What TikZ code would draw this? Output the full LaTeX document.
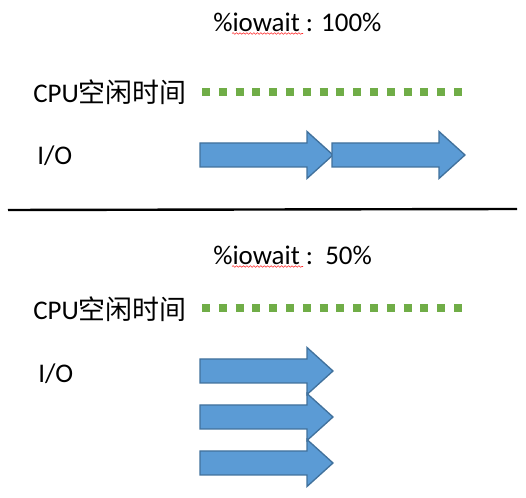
\documentclass[tikz,border=0pt]{standalone}
\usepackage{fontspec}
\setmainfont{Carlito}
\newfontfamily\cjk{Noto Sans CJK SC}
\usepackage{xcolor}
\usetikzlibrary{positioning,calc,decorations.pathmorphing}

\definecolor{ioblue}{HTML}{5B9BD5}
\definecolor{ioedge}{HTML}{41719C}
\definecolor{idlegreen}{HTML}{70AD47}

\tikzset{
  label/.style={inner sep=0pt, anchor=west, font=\fontsize{20.2}{24}\selectfont},
  ioblock/.style={draw=ioedge, line width=1pt, fill=ioblue, line join=miter},
  idle/.style={draw=idlegreen, line width=6pt, dash pattern=on 6pt off 6.6pt},
  spell/.style={draw=red!85, line width=0.4pt, decorate,
    decoration={snake, amplitude=0.6pt, segment length=2.6pt}}
}

% #1 is x of tail
% #2 is y of centre
\newcommand{\ioarrow}[2]{
  \path[ioblock] (#1,#2-12) -- (#1+107,#2-12) -- (#1+107,#2-23.5) -- (#1+133,#2)
    -- (#1+107,#2+23.5) -- (#1+107,#2+12) -- (#1,#2+12) -- cycle;
}

\begin{document}
\begin{tikzpicture}[x=0.75pt, y=-0.75pt]
  \useasboundingbox (0,0) rectangle (526,498);

  % upper case: 100%
  \node[label] (title_full) at (213,22) {\%iowait : 100\%};
  \draw[spell] (232,33.5) -- (303,33.5);
  \node[label] (cpu_full) at (33,92) {CPU{\cjk 空闲时间}};
  \node[label] (io_full) at (37,156) {I/O};

  \draw[idle] (202,92) -- (462,92);

  \ioarrow{200}{155}
  \ioarrow{332}{155}

  % separator
  \coordinate (sep_left) at (8,210);
  \coordinate (sep_right) at (517,209);
  \draw[line width=1.8pt] (sep_left) -- (sep_right);

  % lower case: 50%
  \node[label] (title_half) at (213,255) {\%iowait :\ \ 50\%};
  \draw[spell] (232,266.5) -- (303,266.5);
  \node[label] (cpu_half) at (33,309) {CPU{\cjk 空闲时间}};
  \node[label] (io_half) at (38,374) {I/O};

  \draw[idle] (202,308) -- (462,308);

  \ioarrow{200}{371}
  \ioarrow{200}{417}
  \ioarrow{200}{463}

\end{tikzpicture}
\end{document}
